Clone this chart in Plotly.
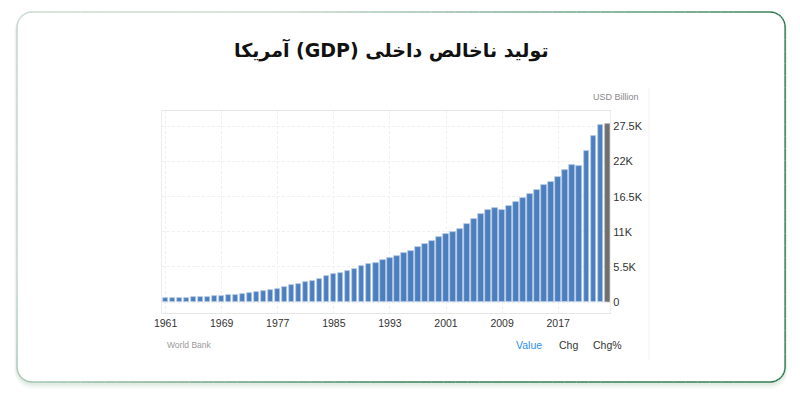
import math
import plotly.graph_objects as go

# ---------------- data ----------------
years = list(range(1961, 2024))
gdp_usd_bn = [563.3, 605.1, 638.6, 685.8, 743.7, 815.0, 861.7, 942.5, 1019.9, 1073.3,
              1164.9, 1279.1, 1425.4, 1545.2, 1684.9, 1873.4, 2081.8, 2351.6, 2627.3, 2857.3,
              3207.0, 3343.8, 3634.0, 4037.6, 4339.0, 4579.6, 4855.2, 5236.4, 5641.6, 5963.1,
              6158.1, 6520.3, 6858.6, 7287.2, 7639.7, 8073.1, 8577.6, 9062.8, 9631.2, 10251.0,
              10581.9, 10929.1, 11456.4, 12217.2, 13039.2, 13815.6, 14474.2, 14769.9, 14478.1, 15049.0,
              15599.7, 16254.0, 16880.7, 17608.1, 18295.0, 18804.9, 19612.1, 20656.5, 21540.0, 21354.1,
              23681.2, 26006.9, 27720.7]
last_year = [2024]
last_value = [27900]

x_tick_years = [1961, 1969, 1977, 1985, 1993, 2001, 2009, 2017]
y_tick_vals = [0, 5500, 11000, 16500, 22000, 27500]
y_tick_text = ["0", "5.5K", "11K", "16.5K", "22K", "27.5K"]

title_text = "تولید ناخالص داخلی (GDP) آمریکا"
unit_text = "USD Billion"
source_text = "World Bank"
tab_labels = ["Value", "Chg", "Chg%"]

W, H = 800, 396


def px(x):
    # horizontal position (in target pixels) -> paper fraction
    return ((x - 7.92) / 0.99) / W


def py(y):
    return 1 - y / H


def rr_points(x0, y0, x1, y1, r, n=10):
    pts = []
    corners = [
        (x1 - r, y0 + r, -90, 0),
        (x1 - r, y1 - r, 0, 90),
        (x0 + r, y1 - r, 90, 180),
        (x0 + r, y0 + r, 180, 270),
    ]
    for cx, cy, a0, a1 in corners:
        for i in range(n + 1):
            a = math.radians(a0 + (a1 - a0) * i / n)
            pts.append((cx + r * math.cos(a), cy + r * math.sin(a)))
    pts.append(pts[0])
    return pts


def rr_path(x0, y0, x1, y1, r):
    pts = rr_points(x0, y0, x1, y1, r)
    s = "M %.4f,%.4f " % (px(pts[0][0]), py(pts[0][1]))
    for p in pts[1:]:
        s += "L %.4f,%.4f " % (px(p[0]), py(p[1]))
    return s + "Z"


shapes = []
cx0, cy0, cx1, cy1, rad = 17, 12, 785, 382, 15
# soft shadow
for d, a in [(7, 0.05), (5, 0.07), (3, 0.09)]:
    shapes.append(dict(type="path", xref="paper", yref="paper",
                       path=rr_path(cx0 - d * 0.4, cy0 + 1, cx1 + d * 0.4, cy1 + d, rad + d * 0.5),
                       fillcolor="rgba(110,150,125,%.2f)" % a, line=dict(width=0), layer="below"))
shapes.append(dict(type="path", xref="paper", yref="paper",
                   path=rr_path(cx0, cy0, cx1, cy1, rad),
                   fillcolor="white", line=dict(width=0), layer="below"))
# gradient border
light = (198, 216, 205)
dark = (38, 120, 74)
pts = rr_points(cx0, cy0, cx1, cy1, rad, n=8)
dense = []
for i in range(len(pts) - 1):
    a, b = pts[i], pts[i + 1]
    L = math.hypot(b[0] - a[0], b[1] - a[1])
    k = max(1, int(L / 12))
    for j in range(k):
        dense.append((a[0] + (b[0] - a[0]) * j / k, a[1] + (b[1] - a[1]) * j / k))
dense.append(pts[-1])
for i in range(len(dense) - 1):
    a, b = dense[i], dense[i + 1]
    mx, my = (a[0] + b[0]) / 2, (a[1] + b[1]) / 2
    t = 0.75 * (mx - cx0) / (cx1 - cx0) + 0.35 * (my - cy0) / (cy1 - cy0)
    t = min(1, max(0, (t - 0.25) / 0.5))
    c = tuple(int(light[k] + (dark[k] - light[k]) * t) for k in range(3))
    shapes.append(dict(type="line", xref="paper", yref="paper",
                       x0=px(a[0]), y0=py(a[1]), x1=px(b[0]), y1=py(b[1]),
                       line=dict(color="rgb(%d,%d,%d)" % c, width=1.4), layer="below"))
# faint widget right border
shapes.append(dict(type="line", xref="paper", yref="paper",
                   x0=px(649), x1=px(649), y0=py(88), y1=py(360),
                   line=dict(color="#f1f1f1", width=1), layer="below"))

fig = go.Figure()
fig.add_trace(go.Bar(x=years, y=gdp_usd_bn, width=0.76,
                     marker=dict(color="#4d7fbf", line=dict(color="#b8cbe6", width=0.8)),
                     showlegend=False, hoverinfo="x+y"))
fig.add_trace(go.Bar(x=last_year, y=last_value, width=0.76,
                     marker=dict(color="#6f6f6f", line=dict(color="#9a9a9a", width=0.6)),
                     showlegend=False, hoverinfo="x+y"))

axis_font = dict(family="Liberation Sans, Arial, sans-serif", color="#333333")
fig.update_layout(
    width=W, height=H,
    margin=dict(l=0, r=0, t=0, b=0),
    paper_bgcolor="white", plot_bgcolor="white",
    bargap=0, barmode="overlay",
    shapes=shapes,
    xaxis=dict(domain=[px(162), px(610)], range=[1960.5, 2024.4],
               tickvals=x_tick_years, ticktext=[str(v) for v in x_tick_years],
               tickfont=dict(size=10.5, **axis_font), ticks="",
               showgrid=True, gridcolor="#f0f0f0", griddash="3px,2px", gridwidth=1,
               showline=True, linecolor="#e6e6e6", linewidth=1, mirror=True,
               zeroline=False, fixedrange=True),
    yaxis=dict(domain=[py(313), py(111)], range=[-1720, 29930], side="right",
               tickvals=y_tick_vals, ticktext=y_tick_text,
               tickfont=dict(size=11, **axis_font), ticks="",
               showgrid=True, gridcolor="#f0f0f0", griddash="3px,2px", gridwidth=1,
               showline=True, linecolor="#eeeeee", linewidth=1, mirror=True,
               zeroline=False, fixedrange=True),
    annotations=[
        dict(text="\u202B" + title_text + "\u202C", x=px(391), y=py(50), xref="paper", yref="paper",
             showarrow=False, xanchor="center", yanchor="middle",
             font=dict(family="DejaVu Sans, Noto Sans, sans-serif", size=19, color="#111111", weight="bold")),
        dict(text=unit_text, x=px(641), y=py(97), xref="paper", yref="paper",
             showarrow=False, xanchor="right", yanchor="middle",
             font=dict(family="Liberation Sans, Arial, sans-serif", size=9, color="#888888")),
        dict(text=source_text, x=px(165), y=py(345), xref="paper", yref="paper",
             showarrow=False, xanchor="left", yanchor="middle",
             font=dict(family="Liberation Sans, Arial, sans-serif", size=8.5, color="#999999")),
        dict(text=tab_labels[0], x=px(529), y=py(345), xref="paper", yref="paper",
             showarrow=False, xanchor="center", yanchor="middle",
             font=dict(family="Liberation Sans, Arial, sans-serif", size=10.5, color="#2e90ea")),
        dict(text=tab_labels[1], x=px(568), y=py(345), xref="paper", yref="paper",
             showarrow=False, xanchor="center", yanchor="middle",
             font=dict(family="Liberation Sans, Arial, sans-serif", size=10.5, color="#333333")),
        dict(text=tab_labels[2], x=px(607), y=py(345), xref="paper", yref="paper",
             showarrow=False, xanchor="center", yanchor="middle",
             font=dict(family="Liberation Sans, Arial, sans-serif", size=10.5, color="#333333")),
    ],
)

post = (
    "document.documentElement.style.margin='0';"
    "document.documentElement.style.padding='0';"
    "document.documentElement.style.overflow='hidden';"
    "document.body.style.margin='0';"
    "document.body.style.padding='0';"
    "document.body.style.overflow='hidden';"
    "document.body.style.width='800px';"
    "document.body.style.height='396px';"
    "var gd=document.getElementById('{plot_id}');"
    "if(gd){gd.style.position='fixed';gd.style.left='0px';gd.style.top='0px';}"
)
fig.write_html("out.html", config=dict(displayModeBar=False), post_script=post)
